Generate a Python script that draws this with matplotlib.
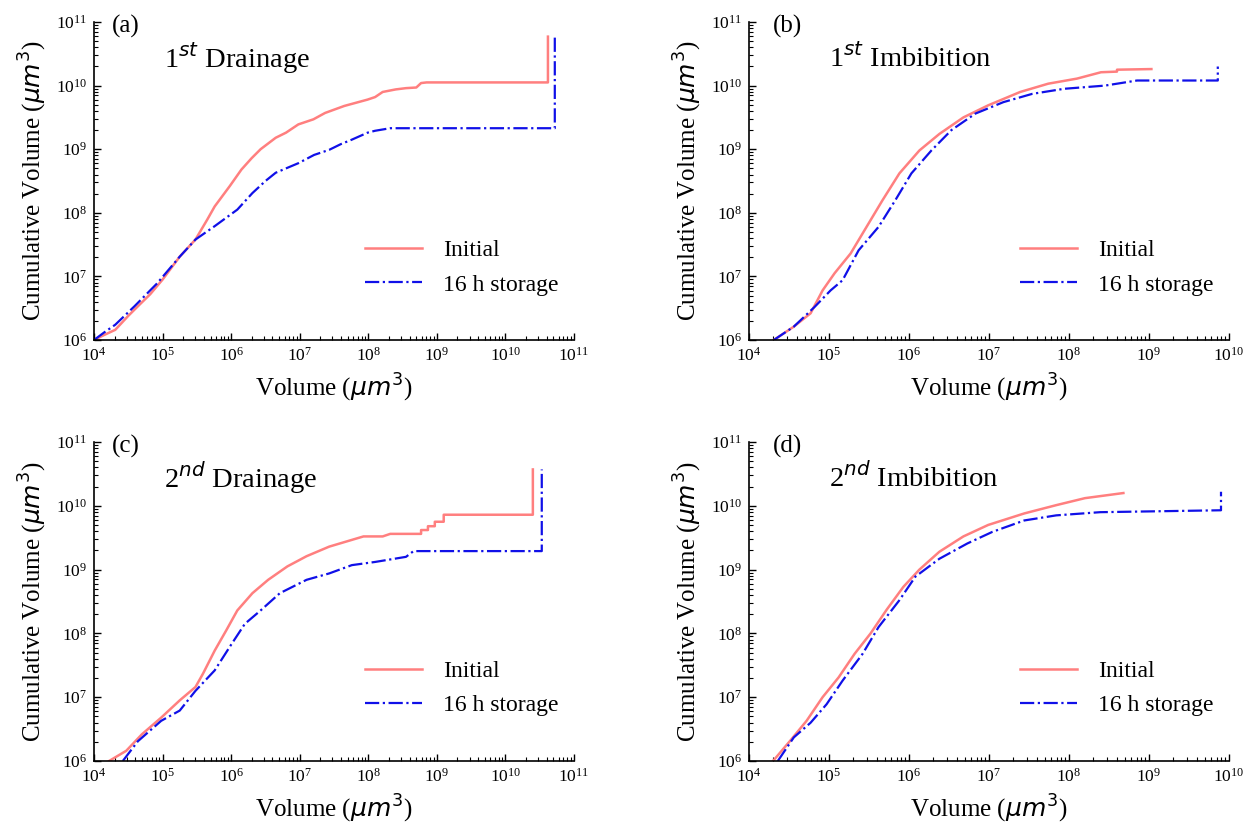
import numpy as np
import matplotlib
matplotlib.use("Agg")
import matplotlib.pyplot as plt
from matplotlib.ticker import LogLocator, NullFormatter

plt.rcParams['font.family'] = ['Liberation Serif', 'DejaVu Serif']
plt.rcParams['mathtext.fontset'] = 'custom'
plt.rcParams['mathtext.rm'] = 'Liberation Serif'
plt.rcParams['mathtext.it'] = 'DejaVu Sans:italic'
plt.rcParams['mathtext.sf'] = 'DejaVu Sans'

# ---- data (log10 of values) ----
# (a) 1st Drainage
a_init_lx = [4.00, 4.15, 4.31, 4.50, 4.64, 4.82, 5.00, 5.25, 5.48, 5.65, 5.76, 5.98, 6.15, 6.30, 6.43, 6.65, 6.80, 6.98, 7.20, 7.37, 7.65, 7.99, 8.10, 8.21, 8.40, 8.55, 8.70, 8.77, 8.85, 10.62, 10.62]
a_init_ly = [6.00, 6.08, 6.16, 6.38, 6.53, 6.72, 6.95, 7.31, 7.58, 7.89, 8.10, 8.42, 8.68, 8.86, 9.00, 9.18, 9.26, 9.39, 9.47, 9.57, 9.68, 9.78, 9.82, 9.90, 9.94, 9.96, 9.97, 10.04, 10.05, 10.05, 10.77]
a_stor_lx = [4.00, 4.15, 4.31, 4.59, 4.92, 5.25, 5.48, 5.76, 6.09, 6.31, 6.50, 6.65, 6.98, 7.21, 7.43, 7.60, 7.76, 7.99, 8.10, 8.32, 10.72, 10.72]
a_stor_ly = [6.00, 6.12, 6.24, 6.53, 6.89, 7.31, 7.58, 7.79, 8.05, 8.31, 8.50, 8.63, 8.78, 8.91, 8.99, 9.08, 9.15, 9.26, 9.29, 9.33, 9.33, 10.77]

# (b) 1st Imbibition
b_init_lx = [4.31, 4.56, 4.77, 4.92, 5.07, 5.27, 5.47, 5.67, 5.88, 6.13, 6.38, 6.68, 6.99, 7.39, 7.74, 8.10, 8.40, 8.60, 8.60, 9.03]
b_init_ly = [6.00, 6.21, 6.42, 6.78, 7.05, 7.36, 7.78, 8.20, 8.62, 8.98, 9.24, 9.50, 9.69, 9.90, 10.03, 10.11, 10.21, 10.22, 10.25, 10.26]
b_stor_lx = [4.31, 4.56, 4.82, 5.02, 5.17, 5.37, 5.62, 5.83, 6.03, 6.28, 6.53, 6.83, 7.18, 7.54, 7.94, 8.45, 8.85, 9.86, 9.86]
b_stor_ly = [6.00, 6.21, 6.52, 6.78, 6.94, 7.41, 7.78, 8.20, 8.62, 8.98, 9.30, 9.56, 9.74, 9.87, 9.95, 10.00, 10.08, 10.08, 10.30]

# (c) 2nd Drainage
c_init_lx = [4.22, 4.47, 4.70, 4.98, 5.25, 5.48, 5.59, 5.76, 5.93, 6.09, 6.31, 6.54, 6.82, 7.10, 7.43, 7.93, 8.21, 8.32, 8.77, 8.77, 8.87, 8.87, 8.97, 8.97, 9.10, 9.10, 10.40, 10.40]
c_init_ly = [6.00, 6.16, 6.42, 6.68, 6.95, 7.16, 7.37, 7.73, 8.05, 8.36, 8.63, 8.84, 9.05, 9.21, 9.36, 9.52, 9.52, 9.56, 9.56, 9.62, 9.62, 9.68, 9.68, 9.75, 9.75, 9.86, 9.86, 10.57]
c_stor_lx = [4.42, 4.64, 4.98, 5.25, 5.48, 5.76, 5.98, 6.20, 6.43, 6.71, 7.10, 7.43, 7.76, 8.10, 8.55, 8.66, 10.53, 10.53]
c_stor_ly = [6.00, 6.31, 6.63, 6.79, 7.10, 7.42, 7.79, 8.15, 8.36, 8.63, 8.84, 8.94, 9.07, 9.12, 9.20, 9.29, 9.29, 10.57]

# (d) 2nd Imbibition
d_init_lx = [4.30, 4.51, 4.72, 4.92, 5.12, 5.32, 5.52, 5.72, 5.93, 6.13, 6.38, 6.68, 6.99, 7.44, 7.84, 8.20, 8.68]
d_init_ly = [6.00, 6.31, 6.63, 7.00, 7.31, 7.68, 8.00, 8.37, 8.73, 9.00, 9.28, 9.52, 9.70, 9.88, 10.01, 10.12, 10.20]
d_stor_lx = [4.36, 4.56, 4.77, 4.97, 5.17, 5.42, 5.62, 5.88, 6.08, 6.38, 6.73, 7.04, 7.44, 7.84, 8.39, 9.90, 9.90]
d_stor_ly = [6.00, 6.37, 6.60, 6.89, 7.26, 7.68, 8.10, 8.52, 8.89, 9.17, 9.41, 9.59, 9.77, 9.85, 9.90, 9.93, 10.22]

panel_tags = ['(a)', '(b)', '(c)', '(d)']
panel_titles = [r'$1^{st}$ Drainage', r'$1^{st}$ Imbibition', r'$2^{nd}$ Drainage', r'$2^{nd}$ Imbibition']
series_labels = ['Initial', '16 h storage']
x_limits = [(1e4, 1e11), (1e4, 1e10), (1e4, 1e11), (1e4, 1e10)]
y_limits = (1e6, 1e11)

data = [
    (a_init_lx, a_init_ly, a_stor_lx, a_stor_ly),
    (b_init_lx, b_init_ly, b_stor_lx, b_stor_ly),
    (c_init_lx, c_init_ly, c_stor_lx, c_stor_ly),
    (d_init_lx, d_init_ly, d_stor_lx, d_stor_ly),
]

W, H = 1252, 834
fig = plt.figure(figsize=(W / 100, H / 100), dpi=100)

# axes boxes in pixels: left, right, top, bottom
boxes = [(94, 574, 22, 340), (749, 1229, 22, 340), (94, 574, 442, 761), (749, 1229, 442, 761)]
title_x = [0.145, 0.166, 0.145, 0.166]
tag_x = [0.038, 0.05, 0.038, 0.05]

for i, (l, r, t, b) in enumerate(boxes):
    ax = fig.add_axes([l / W, 1 - b / H, (r - l) / W, (b - t) / H])
    ilx, ily, slx, sly = data[i]
    ax.plot(10 ** np.array(ilx), 10 ** np.array(ily), color='#FF7F7F', lw=1.8, label=series_labels[0])
    ax.plot(10 ** np.array(slx), 10 ** np.array(sly), color='#1010E8', lw=1.6, ls='-.', label=series_labels[1])
    ax.set_xscale('log')
    ax.set_yscale('log')
    ax.set_xlim(*x_limits[i])
    ax.set_ylim(*y_limits)
    for s in ['top', 'right']:
        ax.spines[s].set_visible(False)
    for s in ['left', 'bottom']:
        ax.spines[s].set_linewidth(1.2)
    ax.xaxis.set_major_locator(LogLocator(base=10, numticks=20))
    ax.yaxis.set_major_locator(LogLocator(base=10, numticks=20))
    ax.xaxis.set_minor_locator(LogLocator(base=10, subs=np.arange(2, 10), numticks=20))
    ax.yaxis.set_minor_locator(LogLocator(base=10, subs=np.arange(2, 10), numticks=20))
    ax.xaxis.set_minor_formatter(NullFormatter())
    ax.yaxis.set_minor_formatter(NullFormatter())
    ax.tick_params(which='major', direction='in', length=5, width=1, labelsize=12.5, pad=5)
    ax.tick_params(which='minor', direction='in', length=3, width=0.8)
    ax.set_xlabel(r'Volume ($\mu m^{\mathsf{3}}$)', fontsize=18, labelpad=5)
    ax.set_ylabel(r'Cumulative Volume ($\mu m^{\mathsf{3}}$)', fontsize=18, labelpad=5)
    ax.text(tag_x[i], 0.985, panel_tags[i], transform=ax.transAxes, fontsize=18, ha='left', va='center')
    ax.text(title_x[i], 0.887, panel_titles[i], transform=ax.transAxes, fontsize=20.5, ha='left', va='center')
    ax.legend(loc='center left', bbox_to_anchor=(0.565, 0.228), frameon=False, fontsize=17,
              handlelength=2.4, handletextpad=0.9, labelspacing=0.55, borderpad=0, borderaxespad=0)

fig.savefig('out.png', dpi=100)
